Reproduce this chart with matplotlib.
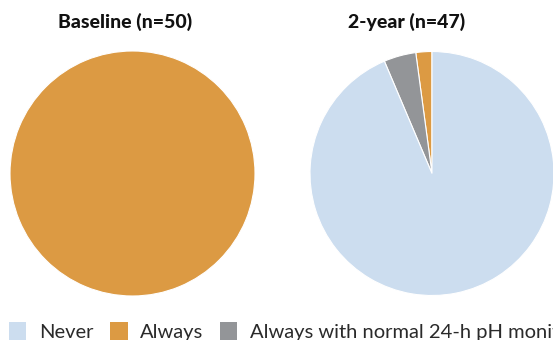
import matplotlib
matplotlib.use('Agg')
import matplotlib.pyplot as plt
from matplotlib.patches import Patch

# Response categories and counts
categories = ['Never', 'Always', 'Always with normal 24-h pH monitoring']
colors = ['#CCDDEF', '#DC9A43', '#939598']
titles = ['Baseline (n=50)', '2-year (n=47)']
baseline = [0, 50, 0]
two_year = [44, 1, 2]

plt.rcParams['font.family'] = ['Lato', 'DejaVu Sans']

W, H = 553, 340
fig = plt.figure(figsize=(W / 100, H / 100), dpi=100)

# pie axes in pixel boxes: (left, bottom-from-top, width, height)
boxes = [(10, 296, 245, 245), (310, 296, 244, 245)]
title_x = [125, 407]

# draw wedges counterclockwise from 12 o'clock: Always, normal pH, Never
order = [1, 2, 0]
for counts, box, title, tx in zip([baseline, two_year], boxes, titles, title_x):
    l, b, w, h = box
    ax = fig.add_axes([l / W, (H - b) / H, w / W, h / H])
    vals = [counts[i] for i in order if counts[i] > 0]
    cols = [colors[i] for i in order if counts[i] > 0]
    ax.pie(vals, colors=cols, startangle=90, counterclock=True,
           wedgeprops=dict(edgecolor='white', linewidth=0.8))
    ax.set_xlim(-1, 1)
    ax.set_ylim(-1, 1)
    ax.set_aspect('equal')
    ax.axis('off')
    fig.text(tx / W, 1 - 22 / H, title, ha='center', va='center',
             fontsize=14, fontweight='black', color='#111111')

handles = [Patch(facecolor=c, edgecolor='none') for c in colors]
fig.legend(handles, categories, loc='upper left', ncol=3,
           bbox_to_anchor=(0.002, 1 - 314 / H), frameon=False,
           prop=dict(size=14.5, weight='normal'),
           handlelength=0.85, handleheight=1.0,
           handletextpad=0.62, columnspacing=0.85, borderaxespad=0,
           labelcolor='#2a2a2a')

fig.savefig('out.png', dpi=100)
